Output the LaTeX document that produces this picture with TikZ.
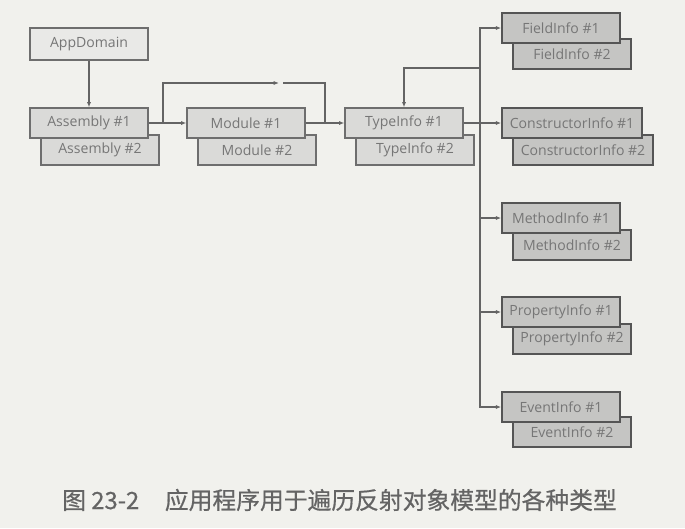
\documentclass[tikz,border=0pt]{standalone}
\usepackage{fontspec}
\setmainfont{Open Sans}
\newfontfamily\cjk[FakeBold=0.6]{Noto Sans CJK SC}
\usepackage{xcolor}
\usetikzlibrary{arrows.meta,calc}
\definecolor{figbg}    {RGB}{241,241,237}
\definecolor{boxline}  {RGB}{110,110,110}
\definecolor{infoline} {RGB}{85,85,85}
\definecolor{appfill}  {RGB}{233,233,231}
\definecolor{objfill}  {RGB}{218,218,216}
\definecolor{infofill} {RGB}{197,197,195}
\definecolor{txtgray}  {RGB}{118,118,118}
\definecolor{linkgray} {RGB}{100,100,100}

\begin{document}
\begin{tikzpicture}[
  x=0.03cm,y=-0.03cm,
  >={Latex[length=4.5pt,width=3.5pt]},
  obj/.style={draw=boxline,fill=objfill,line width=1.1pt,
              minimum width=3.54cm,minimum height=0.9cm,inner sep=0pt,
              text=txtgray,font=\fontsize{12}{14}\selectfont},
  app/.style={obj,fill=appfill,minimum height=0.96cm},
  info/.style={obj,draw=infoline,fill=infofill,line width=1.4pt},
  link/.style={->,draw=linkgray,line width=1.1pt},
  plain/.style={draw=linkgray,line width=1.1pt},
]
\useasboundingbox[fill=figbg] (0,0) rectangle (685,528);

%% ── Second instances (behind) ───────────────────────────────────────────────
\node[obj]  (ASM2) at (100,150) {Assembly \#2};
\node[obj]  (MOD2) at (257,150) {Module \#2};
\node[obj]  (TYP2) at (415,150) {TypeInfo \#2};
\node[info] (FLD2) at (572,54)  {FieldInfo \#2};
\node[info,minimum width=4.2cm] (CTR2) at (583,150) {ConstructorInfo \#2};
\node[info] (MTH2) at (572,245) {MethodInfo \#2};
\node[info] (PRP2) at (572,339) {PropertyInfo \#2};
\node[info] (EVT2) at (572,432) {EventInfo \#2};

%% ── First instances ─────────────────────────────────────────────────────────
\node[app]  (APP)  at (89,44)   {AppDomain};
\node[obj]  (ASM1) at (89,123)  {Assembly \#1};
\node[obj]  (MOD1) at (246,123) {Module \#1};
\node[obj]  (TYP1) at (404,123) {TypeInfo \#1};
\node[info] (FLD1) at (561,28)  {FieldInfo \#1};
\node[info,minimum width=4.2cm] (CTR1) at (572,123) {ConstructorInfo \#1};
\node[info] (MTH1) at (561,218) {MethodInfo \#1};
\node[info] (PRP1) at (561,312) {PropertyInfo \#1};
\node[info] (EVT1) at (561,407) {EventInfo \#1};

%% ── Left chain ──────────────────────────────────────────────────────────────
\draw[link] (APP.south) -- (ASM1.north);
\draw[link] (ASM1.east) -- (MOD1.west);
\draw[link] (MOD1.east) -- (TYP1.west);

%% ── Loop over Module ────────────────────────────────────────────────────────
\coordinate (loopA)   at (163,123);
\coordinate (loopB)   at (325,123);
\coordinate (loopMid) at (279,83);
\draw[link]  (loopA) |- (loopMid);
\draw[plain] ($(loopMid)+(4,0)$) -| (loopB);

%% ── Trunk to the member infos ───────────────────────────────────────────────
\coordinate (trunk) at (480,0);
\draw[link] (TYP1.east) -- (CTR1.west);
\draw[link] (TYP1.east -| trunk) |- (FLD1.west);
\draw[link] (TYP1.east -| trunk) |- (EVT1.west);
\draw[link] (trunk |- MTH1.west) -- (MTH1.west);
\draw[link] (trunk |- PRP1.west) -- (PRP1.west);

%% ── Nested types back to TypeInfo ───────────────────────────────────────────
\coordinate (back) at (480,68);
\draw[link] (back) -| (TYP1.north);

%% ── Caption ─────────────────────────────────────────────────────────────────
\node[font=\cjk\fontsize{20.3}{24}\selectfont,text=linkgray,anchor=west,
      inner sep=0pt] (CAP)
  at (62,500) {图 23-2\hspace{1.08em}应用程序用于遍历反射对象模型的各种类型};

\end{tikzpicture}
\end{document}
